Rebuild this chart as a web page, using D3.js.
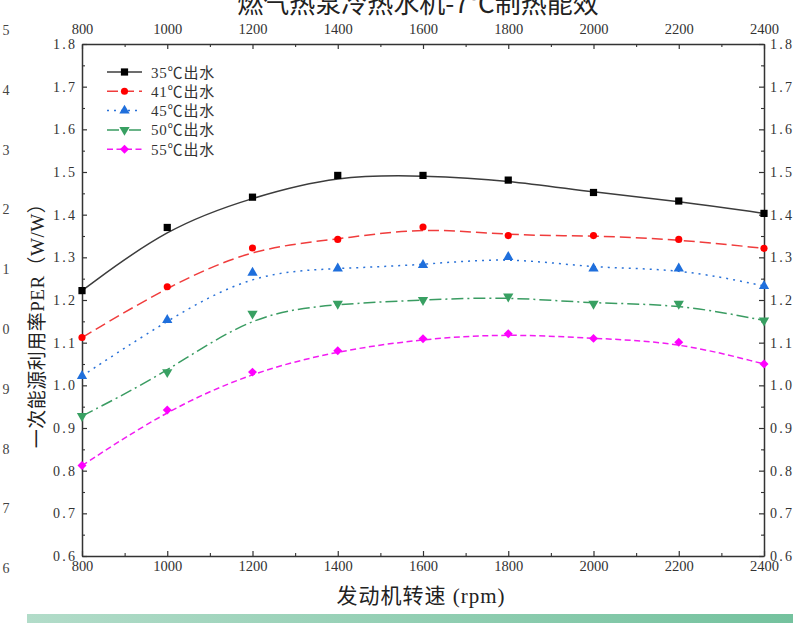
<!DOCTYPE html>
<html>
<head>
<meta charset="utf-8">
<script src="https://cdn.jsdelivr.net/npm/d3@7"></script>
<style>
  html, body { margin: 0; padding: 0; background: #fff; }
  svg { display: block; }
</style>
</head>
<body>
<svg id="chart" width="793" height="623"></svg>
<script>
// Engine speed (rpm) and primary energy ratio for each outlet water temperature
const speeds = [800, 1000, 1200, 1400, 1600, 1800, 2000, 2200, 2400];
const per35 = [1.222, 1.370, 1.441, 1.492, 1.492, 1.481, 1.452, 1.432, 1.403];
const per41 = [1.112, 1.231, 1.322, 1.342, 1.371, 1.351, 1.351, 1.342, 1.321];
const per45 = [1.022, 1.153, 1.264, 1.274, 1.282, 1.301, 1.274, 1.274, 1.233];
const per50 = [0.928, 1.031, 1.168, 1.191, 1.200, 1.208, 1.191, 1.191, 1.152];
const per55 = [0.812, 0.942, 1.031, 1.081, 1.109, 1.121, 1.110, 1.101, 1.050];
const seriesNames = ["35℃出水", "41℃出水", "45℃出水", "50℃出水", "55℃出水"];
const xTickValues = [800, 1000, 1200, 1400, 1600, 1800, 2000, 2200, 2400];
const yTickValues = [0.6, 0.7, 0.8, 0.9, 1.0, 1.1, 1.2, 1.3, 1.4, 1.5, 1.6, 1.7, 1.8];
const sideDigits = ["5", "4", "3", "2", "1", "0", "9", "8", "7", "6"];

const titleText = "燃气热泵冷热水机-7℃制热能效";
const xTitle = "发动机转速 (rpm)";
const yTitle = "一次能源利用率PER（W/W）";

const svg = d3.select("#chart");
const FONT = "'Liberation Serif', 'Noto Sans CJK SC', serif";
const TXT = "#333";

const plot = { left: 82, right: 764, top: 44, bottom: 556 };
const x = d3.scaleLinear().domain([800, 2400]).range([plot.left, plot.right]);
const y = d3.scaleLinear().domain([0.6, 1.8]).range([plot.bottom, plot.top]);

// Bottom decorative band
const defs = svg.append("defs");
const grad = defs.append("linearGradient").attr("id", "band").attr("x1", "0").attr("x2", "1");
grad.append("stop").attr("offset", "0").attr("stop-color", "#b2dcc9");
grad.append("stop").attr("offset", "1").attr("stop-color", "#74c29e");
svg.append("rect").attr("x", 27).attr("y", 614).attr("width", 766).attr("height", 9)
  .attr("fill", "url(#band)");

// Title sitting at the top edge
svg.append("text").attr("x", 418).attr("y", 13).attr("text-anchor", "middle")
  .attr("font-family", "'Noto Sans CJK SC', sans-serif").attr("font-size", 26)
  .attr("fill", "#222").text(titleText);

// Digit column on the far left
svg.append("g").selectAll("text").data(sideDigits).join("text")
  .attr("x", 6).attr("y", (d, i) => 35 + i * 59.8).attr("text-anchor", "middle")
  .attr("font-family", FONT).attr("font-size", 14).attr("fill", "#444").text(d => d);

// Minor tick positions halfway between major ticks
const xMinor = d3.pairs(xTickValues).map(([a, b]) => (a + b) / 2);
const yMinor = d3.pairs(yTickValues).map(([a, b]) => (a + b) / 2);

function styleAxis(g) {
  g.select(".domain").attr("stroke", "#333").attr("stroke-width", 1.5);
  g.selectAll(".tick line").attr("stroke", "#333").attr("stroke-width", 1.2);
  g.selectAll("text").attr("font-family", FONT).attr("font-size", 14).attr("fill", TXT);
}
function minorAxis(axis, tr) {
  const g = svg.append("g").attr("transform", tr).call(axis);
  g.select(".domain").remove();
  g.selectAll(".tick line").attr("stroke", "#333").attr("stroke-width", 1.1);
}

// Major axes on all four sides, ticks pointing inward
const fmtY = d3.format(".1f");
const gl = svg.append("g").attr("transform", `translate(${plot.left},0)`)
  .call(d3.axisLeft(y).tickValues(yTickValues).tickSize(-5).tickSizeOuter(0).tickPadding(7).tickFormat(fmtY));
const gr = svg.append("g").attr("transform", `translate(${plot.right},0)`)
  .call(d3.axisRight(y).tickValues(yTickValues).tickSize(-5).tickSizeOuter(0).tickPadding(6).tickFormat(fmtY));
const gb = svg.append("g").attr("transform", `translate(0,${plot.bottom})`)
  .call(d3.axisBottom(x).tickValues(xTickValues).tickSize(-5).tickSizeOuter(0).tickPadding(5).tickFormat(d3.format("d")));
const gt = svg.append("g").attr("transform", `translate(0,${plot.top})`)
  .call(d3.axisTop(x).tickValues(xTickValues).tickSize(-5).tickSizeOuter(0).tickPadding(10).tickFormat(d3.format("d")));
[gl, gr, gb, gt].forEach(styleAxis);
[gl, gr].forEach(g => g.selectAll("text").attr("textLength", 22).attr("lengthAdjust", "spacing"));
[gb, gt].forEach(g => g.selectAll("text").attr("textLength", d => String(d).length * 7.4 - 0.5).attr("lengthAdjust", "spacingAndGlyphs"));

minorAxis(d3.axisLeft(y).tickValues(yMinor).tickSize(-3).tickFormat(""), `translate(${plot.left},0)`);
minorAxis(d3.axisRight(y).tickValues(yMinor).tickSize(-3).tickFormat(""), `translate(${plot.right},0)`);
minorAxis(d3.axisBottom(x).tickValues(xMinor).tickSize(-3).tickFormat(""), `translate(0,${plot.bottom})`);
minorAxis(d3.axisTop(x).tickValues(xMinor).tickSize(-3).tickFormat(""), `translate(0,${plot.top})`);

// Axis titles
svg.append("text").attr("x", 421).attr("y", 603).attr("text-anchor", "middle")
  .attr("font-family", FONT).attr("font-size", 21).attr("letter-spacing", 1)
  .attr("fill", "#222").text(xTitle);
svg.append("text").attr("transform", "translate(44,321) rotate(-90)").attr("text-anchor", "middle")
  .attr("font-family", FONT).attr("font-size", 19).attr("letter-spacing", 0.5)
  .attr("fill", "#222").text(yTitle);

// Series styles
const styles = [
  { values: per35, line: "#3c3c3c", mark: "#000000", dash: null, sym: d3.symbolSquare, size: 52, rot: 0 },
  { values: per41, line: "#f03c3c", mark: "#ff0000", dash: "11,5", sym: d3.symbolCircle, size: 40, rot: 0 },
  { values: per45, line: "#2a72d8", mark: "#1f6fdc", dash: "2,5", sym: d3.symbolTriangle, size: 46, rot: 0 },
  { values: per50, line: "#3a9c62", mark: "#38a062", dash: "12,4,2,4", sym: d3.symbolTriangle, size: 46, rot: 180 },
  { values: per55, line: "#f21cf2", mark: "#ff00ff", dash: "6,3.5", sym: d3.symbolSquare, size: 40, rot: 45 }
];

const line = d3.line().x(d => x(d[0])).y(d => y(d[1])).curve(d3.curveBasis);

styles.forEach(s => {
  const pts = speeds.map((v, i) => [v, s.values[i]]);
  svg.append("path").datum(pts).attr("d", line).attr("fill", "none")
    .attr("stroke", s.line).attr("stroke-width", 1.5)
    .attr("stroke-dasharray", s.dash);
});
styles.forEach(s => {
  const pts = speeds.map((v, i) => [v, s.values[i]]);
  svg.append("g").selectAll("path").data(pts).join("path")
    .attr("d", d3.symbol(s.sym, s.size))
    .attr("transform", d => `translate(${x(d[0])},${y(d[1])}) rotate(${s.rot})`)
    .attr("fill", s.mark);
});

// Legend
const legend = svg.append("g");
styles.forEach((s, i) => {
  const ly = 72 + i * 19.3;
  legend.append("line").attr("x1", 107).attr("x2", 142).attr("y1", ly).attr("y2", ly)
    .attr("stroke", s.line).attr("stroke-width", 1.5).attr("stroke-dasharray", s.dash);
  legend.append("path").attr("d", d3.symbol(s.sym, s.size))
    .attr("transform", `translate(124.5,${ly}) rotate(${s.rot})`).attr("fill", s.mark);
  legend.append("text").attr("x", 151).attr("y", ly + 5.5)
    .attr("font-family", FONT).attr("font-size", 15).attr("letter-spacing", 0.8)
    .attr("fill", TXT).text(seriesNames[i]);
});
</script>
</body>
</html>
